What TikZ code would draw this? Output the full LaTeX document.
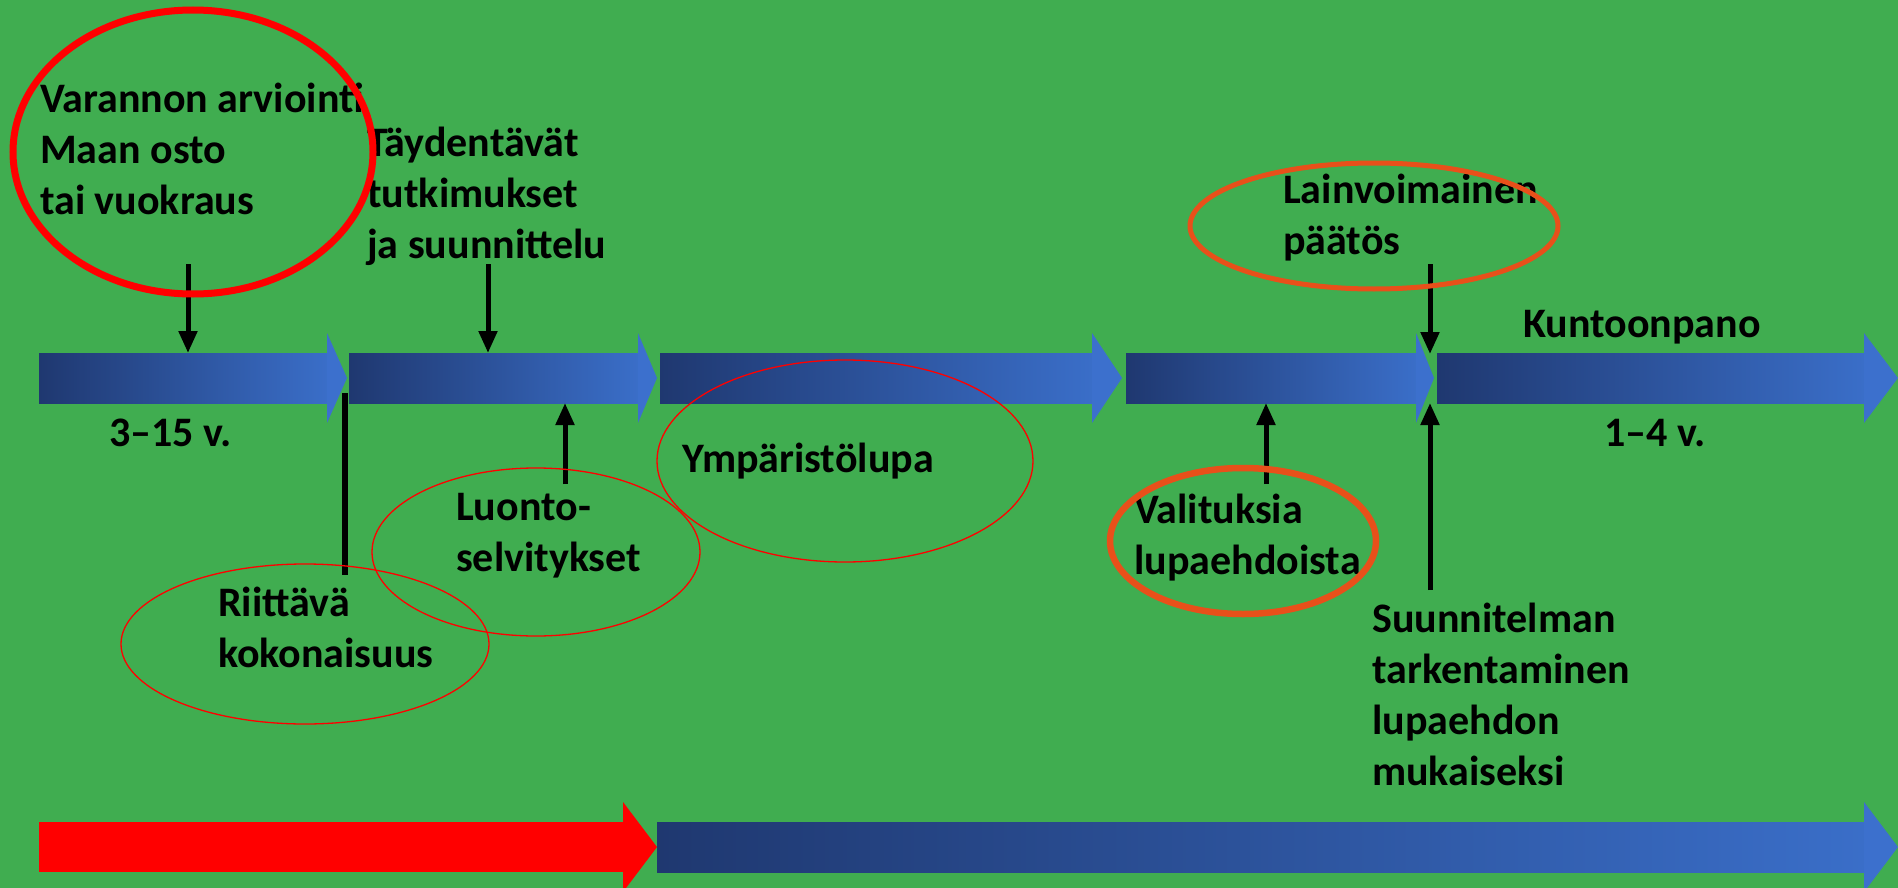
\documentclass[tikz,border=0pt]{standalone}
\usepackage{fontspec}
\setmainfont{Carlito}
\usetikzlibrary{arrows.meta}
\definecolor{bggreen}{RGB}{64,173,80}
\definecolor{navy}{RGB}{31,56,112}
\definecolor{lightblue}{RGB}{58,110,200}
\definecolor{headblue}{RGB}{60,112,205}
\definecolor{ringorange}{RGB}{232,80,26}
\newcommand{\blockarr}[4]{%
  \shade[left color=navy, right color=lightblue] (#1,#4-25) rectangle (#2,#4+25);
  \fill[headblue] (#2,#4-45) -- (#3,#4) -- (#2,#4+45) -- cycle;}
\begin{document}
\begin{tikzpicture}[x=1pt,y=-1pt,
  lbl/.style={anchor=base west, inner sep=0pt, align=left,
    font=\fontsize{42}{51}\selectfont\bfseries},
  conn/.style={line width=5pt, -{Triangle[width=18pt,length=22pt]}},
  barline/.style={line width=6pt},
  thinring/.style={draw=red, line width=1.3pt},
  thickred/.style={draw=red, line width=7pt},
  orangering/.style={draw=ringorange, line width=#1}]
\fill[bggreen] (0,0) rectangle (1898,888);
\useasboundingbox (0,0) rectangle (1898,888);
% top timeline
\blockarr{39}{327}{347}{378}
\blockarr{349}{638}{657}{378}
\blockarr{660}{1092}{1122}{378}
\blockarr{1126}{1416}{1434}{378}
\blockarr{1437}{1864}{1898}{378}
% bottom timeline
\fill[red] (39,822) rectangle (623,872);
\fill[red] (623,802) -- (657,847) -- (623,892) -- cycle;
\shade[left color=navy, right color=lightblue] (657,822) rectangle (1864,872);
\fill[headblue] (1864,802) -- (1898,847) -- (1864,892) -- cycle;
% texts (base anchor = baseline of the last line)
\node[lbl] (t1) at (40,214) {Varannon arviointi\\Maan osto\\tai vuokraus};
\node[lbl] (t2) at (367,258) {Täydentävät\\tutkimukset\\ja suunnittelu};
\node[lbl] (t3) at (109,446) {3–15 v.};
\node[lbl] (t4) at (218,667) {Riittävä\\kokonaisuus};
\node[lbl] (t5) at (456,571) {Luonto-\\selvitykset};
\node[lbl] (t6) at (682,472) {Ympäristölupa};
\node[lbl] (t7) at (1134,574) {Valituksia\\lupaehdoista};
\node[lbl] (t8) at (1283,254) {Lainvoimainen\\päätös};
\node[lbl] (t9) at (1523,337) {Kuntoonpano};
\node[lbl] (t10) at (1604,446) {1–4 v.};
\node[lbl] (t11) at (1372,785) {Suunnitelman\\tarkentaminen\\lupaehdon\\mukaiseksi};
% connectors
\coordinate (c1s) at (188,264); \coordinate (c1e) at (188,353);
\coordinate (c2s) at (488,264); \coordinate (c2e) at (488,353);
\coordinate (c3s) at (345,393); \coordinate (c3e) at (345,575);
\coordinate (c4s) at (565,484); \coordinate (c4e) at (565,403);
\coordinate (c5s) at (1266,484); \coordinate (c5e) at (1266,403);
\coordinate (c6s) at (1430,264); \coordinate (c6e) at (1430,354);
\coordinate (c7s) at (1430,590); \coordinate (c7e) at (1430,403);
\draw[conn] (c1s) -- (c1e);
\draw[conn] (c2s) -- (c2e);
\draw[barline] (c3s) -- (c3e);
\draw[conn] (c4s) -- (c4e);
\draw[conn] (c5s) -- (c5e);
\draw[conn] (c6s) -- (c6e);
\draw[conn] (c7s) -- (c7e);
% rings
\draw[thickred] (193,152) ellipse [x radius=180pt, y radius=142pt];
\draw[thinring] (305,644) ellipse [x radius=184pt, y radius=80pt];
\draw[thinring] (536,552) ellipse [x radius=164pt, y radius=84pt];
\draw[thinring] (845,461) ellipse [x radius=188pt, y radius=101pt];
\draw[orangering=6.5pt] (1243,541) ellipse [x radius=133pt, y radius=73pt];
\draw[orangering=5pt] (1374,226) ellipse [x radius=184pt, y radius=63pt];
\end{tikzpicture}
\end{document}
